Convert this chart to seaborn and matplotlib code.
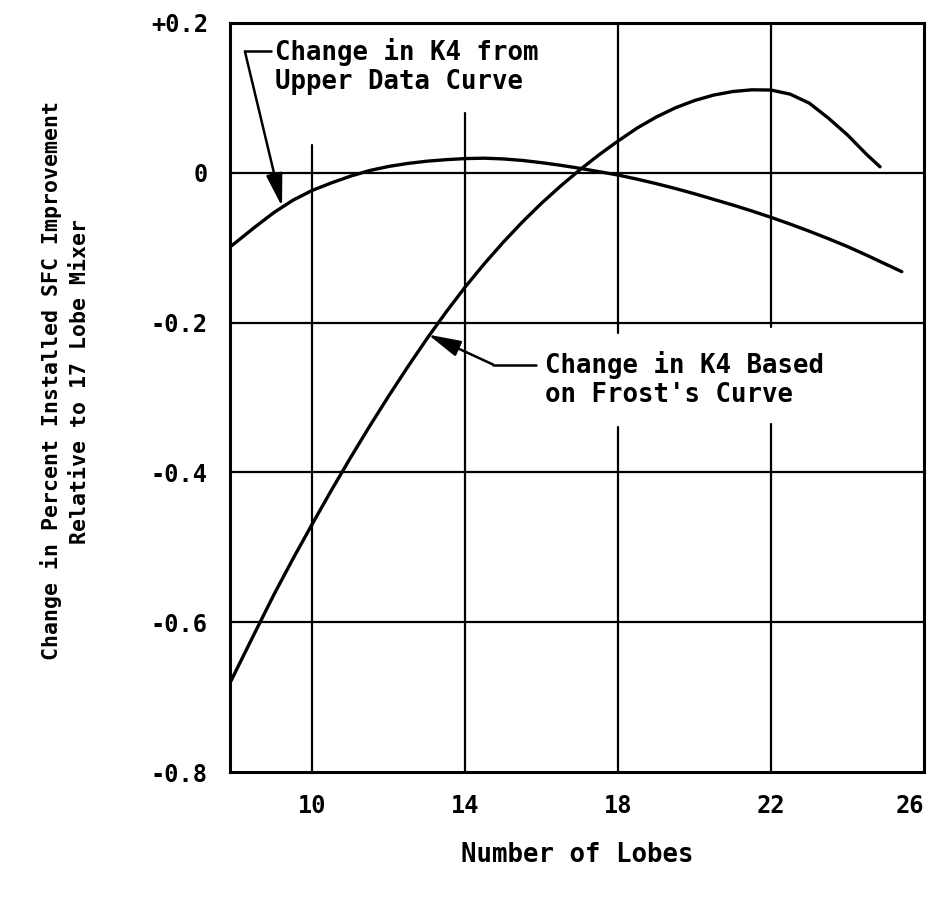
import matplotlib
matplotlib.use("Agg")
import matplotlib.pyplot as plt
import seaborn as sns
import pandas as pd

# ---- data ----
upper_x = [7.85, 8.0, 8.5, 9.0, 9.5, 10.0, 10.5, 11.0, 11.5, 12.0, 12.5, 13.0, 13.5, 14.0, 14.5, 15.0, 15.5,
           16.0, 16.5, 17.0, 17.5, 18.0, 18.5, 19.0, 19.5, 20.0, 20.5, 21.0, 21.5, 22.0, 22.5, 23.0, 23.5,
           24.0, 24.5, 25.0, 25.42]
upper_y = [-0.099, -0.093, -0.0725, -0.053, -0.0365, -0.0235, -0.0135, -0.0045, 0.003, 0.0085, 0.0125, 0.0155,
           0.0175, 0.019, 0.0195, 0.0185, 0.0165, 0.0135, 0.010, 0.006, 0.0015, -0.003, -0.0085, -0.0145,
           -0.021, -0.028, -0.0355, -0.043, -0.051, -0.0595, -0.0685, -0.078, -0.088, -0.0985, -0.110,
           -0.122, -0.132]

frost_x = [7.85, 8.5, 9.0, 9.5, 10.0, 10.5, 11.0, 11.5, 12.0, 12.5, 13.0, 13.5, 14.0, 14.5, 15.0, 15.5,
           16.0, 16.5, 17.0, 17.5, 18.0, 18.5, 19.0, 19.5, 20.0, 20.5, 21.0, 21.5, 22.0, 22.5, 23.0, 23.5,
           24.0, 24.5, 24.85]
frost_y = [-0.681, -0.614, -0.563, -0.515, -0.469, -0.424, -0.3805, -0.3385, -0.298, -0.259, -0.2215, -0.186,
           -0.1525, -0.1215, -0.0925, -0.0655, -0.0405, -0.0175, 0.004, 0.024, 0.0425, 0.0598, 0.0745,
           0.0868, 0.0965, 0.1038, 0.1085, 0.1108, 0.1105, 0.105, 0.093, 0.073, 0.0505, 0.0245, 0.008]

x_ticks = [10, 14, 18, 22, 26]
x_tick_labels = ["10", "14", "18", "22", "26"]
y_ticks = [-0.8, -0.6, -0.4, -0.2, 0.0, 0.2]
y_tick_labels = ["-0.8", "-0.6", "-0.4", "-0.2", "0", "+0.2"]

label_upper = "Change in K4 from\nUpper Data Curve"
label_frost = "Change in K4 Based\non Frost's Curve"
x_title = "Number of Lobes"
y_title = "Change in Percent Installed SFC Improvement\nRelative to 17 Lobe Mixer"

df = pd.concat([
    pd.DataFrame({"lobes": upper_x, "change": upper_y, "curve": "upper"}),
    pd.DataFrame({"lobes": frost_x, "change": frost_y, "curve": "frost"}),
])

sns.set_style("white")
plt.rcParams["font.family"] = ["DejaVu Sans Mono", "DejaVu Sans"]
plt.rcParams["text.color"] = "black"
plt.rcParams["axes.labelcolor"] = "black"
plt.rcParams["xtick.color"] = "black"
plt.rcParams["ytick.color"] = "black"

fig = plt.figure(figsize=(9.3, 8.97), dpi=100)
ax = fig.add_axes([230 / 930, 1 - 772 / 897, (924 - 230) / 930, (772 - 23) / 897])

sns.lineplot(data=df, x="lobes", y="change", units="curve", estimator=None, sort=False,
             color="black", linewidth=2.4, ax=ax, legend=False, zorder=3)

ax.set_xlim(7.85, 26)
ax.set_ylim(-0.8, 0.2)

# grid (with the gaps of the original drawing)
for yv in [-0.6, -0.4, -0.2, 0.0]:
    ax.axhline(yv, color="black", lw=1.6, zorder=1)
grid_segments = {10: [(0.0, 0.837)], 14: [(0.0, 0.880)],
                 18: [(0.586, 1.0), (0.0, 0.461)], 22: [(0.594, 1.0), (0.0, 0.465)]}
for xv, segs in grid_segments.items():
    for lo, hi in segs:
        ax.axvline(xv, ymin=lo, ymax=hi, color="black", lw=1.6, zorder=1)

for s in ax.spines.values():
    s.set_visible(True)
    s.set_color("black")
    s.set_linewidth(2.2)

ax.set_xticks(x_ticks)
ax.set_xticklabels(x_tick_labels, fontsize=17, fontweight="bold")
ax.set_yticks(y_ticks)
ax.set_yticklabels(y_tick_labels, fontsize=17, fontweight="bold")
ax.tick_params(length=0, pad=16)
ax.get_xticklabels()[-1].set_ha("right")
ax.set_xlabel("")
ax.set_ylabel("")

fig.text(577 / 930, 1 - 855 / 897, x_title, ha="center", va="center", fontsize=18.5,
         fontweight="bold")
fig.text(65 / 930, 1 - 381 / 897, y_title, ha="center", va="center", rotation=90,
         fontsize=15.5, linespacing=1.55, multialignment="center", fontweight="bold")

# annotations
ax.text(9.03, 0.142, label_upper, ha="left", va="center", fontsize=18.5, linespacing=1.15,
        fontweight="bold")
ax.plot([8.24, 8.93], [0.162, 0.162], color="black", lw=1.8)
ax.annotate("", xy=(9.21, -0.045), xytext=(8.24, 0.162),
            arrowprops=dict(arrowstyle="-|>,head_length=1.0,head_width=0.25", color="black",
                            lw=1.8, shrinkA=0, shrinkB=0, mutation_scale=20))

ax.text(16.09, -0.276, label_frost, ha="left", va="center", fontsize=18.5, linespacing=1.15,
        fontweight="bold")
ax.plot([14.73, 15.85], [-0.256, -0.256], color="black", lw=1.8)
ax.annotate("", xy=(13.03, -0.216), xytext=(14.73, -0.256),
            arrowprops=dict(arrowstyle="-|>,head_length=1.0,head_width=0.25", color="black",
                            lw=1.8, shrinkA=0, shrinkB=0, mutation_scale=20))

fig.savefig("out.png", dpi=100)
